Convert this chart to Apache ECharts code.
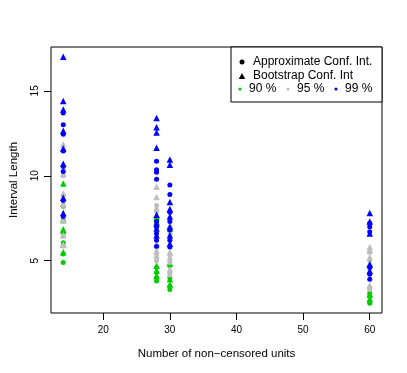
<!DOCTYPE html>
<html>
<head>
<meta charset="utf-8">
<script src="https://cdn.jsdelivr.net/npm/echarts@6/dist/echarts.min.js"></script>
<style>
  html, body { margin: 0; padding: 0; background: #fff; }
  #main { width: 407px; height: 373px; }
</style>
</head>
<body>
<div id="main"></div>
<script>
// number of non-censored units (x positions)
const nUnits = [14, 28, 30, 60];

// interval lengths, one inner list per entry of nUnits
const approx90 = [
  [8.2, 7.35, 6.05, 5.4, 4.9],
  [7.45, 7.0, 4.6, 4.3, 4.0, 3.8],
  [4.7, 4.0, 3.5, 3.3],
  [3.1, 2.9, 2.6, 2.5]
];
const boot90 = [
  [9.55, 7.4, 6.85, 6.75, 5.98, 5.5],
  [7.55, 7.3, 4.7, 4.4, 4.1],
  [6.9, 4.85, 3.9, 3.6],
  [4.75, 3.0, 2.75]
];
const approx95 = [
  [10.0, 8.85, 8.25, 7.3, 6.45, 5.85],
  [8.25, 7.9, 5.8, 5.4, 5.0],
  [6.6, 5.35, 4.9, 4.3, 4.15],
  [5.5, 5.05, 3.4, 3.3]
];
const boot95 = [
  [11.85, 10.1, 8.95, 8.35, 6.5, 5.95],
  [9.35, 8.75, 8.1, 5.95, 5.6, 5.3],
  [8.0, 7.1, 5.5, 5.2, 4.5],
  [5.8, 5.6, 5.2, 3.55]
];
const approx99 = [
  [13.7, 13.0, 12.45, 11.45, 10.55, 10.25, 8.55, 7.6],
  [10.85, 10.35, 10.2, 9.8, 7.3, 7.0, 6.6, 6.2, 5.85],
  [9.45, 8.9, 7.85, 7.3, 6.8, 6.2, 5.8],
  [7.2, 7.0, 6.7, 4.6, 4.2, 3.9]
];
const boot99 = [
  [17.0, 14.4, 13.9, 12.65, 11.6, 10.7, 8.7, 7.8],
  [13.4, 12.85, 12.55, 11.65, 7.7, 7.2, 6.9, 6.5],
  [10.95, 10.65, 8.45, 8.05, 7.6, 7.0, 6.5, 6.0],
  [7.8, 7.3, 6.6, 4.8, 4.4]
];

const xTicks = [20, 30, 40, 50, 60];
const yTicks = [5, 10, 15];

const green = "#00CD00";
const grey = "#BEBEBE";
const blue = "#0000FF";

// flatten into [x, y] pairs
const toPoints = (vals) => {
  let out = [];
  vals.forEach((list, i) => {
    list.forEach((v) => out.push([nUnits[i], v]));
  });
  return out;
};

const mk = (vals, color, symbol) => ({
  type: "scatter",
  data: toPoints(vals),
  symbol: symbol,
  symbolSize: symbol === "triangle" ? 6.5 : 5,
  itemStyle: { color: color, opacity: 1 },
  silent: true,
  animation: false
});

const font = "Liberation Sans, Arial, Helvetica, sans-serif";

var chart = echarts.init(document.getElementById("main"), null, { renderer: "canvas" });

// legend drawn by hand to keep R's layout
const lx = 231, ly = 47, lw = 151, lh = 55;
const legendGraphic = [
  { type: "rect", shape: { x: lx, y: ly, width: lw, height: lh }, style: { fill: "#fff", stroke: "#000", lineWidth: 1 }, z: 100 },
  { type: "circle", shape: { cx: 242, cy: 62, r: 2.5 }, style: { fill: "#000" }, z: 101 },
  { type: "text", x: 253, y: 62, style: { text: "Approximate Conf. Int.", font: "12px " + font, fill: "#000", verticalAlign: "middle" }, z: 101 },
  { type: "polygon", shape: { points: [[242, 73], [238.8, 79], [245.2, 79]] }, style: { fill: "#000" }, z: 101 },
  { type: "text", x: 253, y: 76, style: { text: "Bootstrap Conf. Int", font: "12px " + font, fill: "#000", verticalAlign: "middle" }, z: 101 },
  { type: "circle", shape: { cx: 240, cy: 89, r: 1.6 }, style: { fill: green }, z: 101 },
  { type: "text", x: 249, y: 89, style: { text: "90 %", font: "12px " + font, fill: "#000", verticalAlign: "middle" }, z: 101 },
  { type: "circle", shape: { cx: 288, cy: 89, r: 1.6 }, style: { fill: grey }, z: 101 },
  { type: "text", x: 297, y: 89, style: { text: "95 %", font: "12px " + font, fill: "#000", verticalAlign: "middle" }, z: 101 },
  { type: "circle", shape: { cx: 336, cy: 89, r: 1.6 }, style: { fill: blue }, z: 101 },
  { type: "text", x: 345, y: 89, style: { text: "99 %", font: "12px " + font, fill: "#000", verticalAlign: "middle" }, z: 101 }
];

var option = {
  backgroundColor: "#fff",
  animation: false,
  textStyle: { fontFamily: font },
  grid: {
    left: 48, right: 25, top: 47, bottom: 60,
    show: true, borderColor: "#000", borderWidth: 1, backgroundColor: "transparent"
  },
  xAxis: {
    type: "value",
    min: 12.16, max: 61.84,
    name: "Number of non\u2212censored units",
    nameLocation: "middle",
    nameGap: 35,
    nameTextStyle: { fontSize: 11.5, color: "#000", fontFamily: font },
    axisLine: { show: false },
    axisTick: { show: true, length: 7, customValues: xTicks, lineStyle: { color: "#000" } },
    axisLabel: { customValues: xTicks, fontSize: 10, color: "#000", margin: 12, fontFamily: font },
    splitLine: { show: false }
  },
  yAxis: {
    type: "value",
    min: 1.92, max: 17.58,
    name: "Interval Length",
    nameLocation: "middle",
    nameGap: 31,
    nameRotate: 90,
    nameTextStyle: { fontSize: 11.5, color: "#000", fontFamily: font },
    axisLine: { show: false },
    axisTick: { show: true, length: 7, customValues: yTicks, lineStyle: { color: "#000" } },
    axisLabel: { customValues: yTicks, fontSize: 10, color: "#000", rotate: 90, margin: 11, fontFamily: font },
    splitLine: { show: false }
  },
  graphic: legendGraphic,
  series: [
    mk(approx90, green, "circle"),
    mk(boot90, green, "triangle"),
    mk(approx95, grey, "circle"),
    mk(boot95, grey, "triangle"),
    mk(approx99, blue, "circle"),
    mk(boot99, blue, "triangle")
  ]
};

option && chart.setOption(option);
</script>
</body>
</html>
